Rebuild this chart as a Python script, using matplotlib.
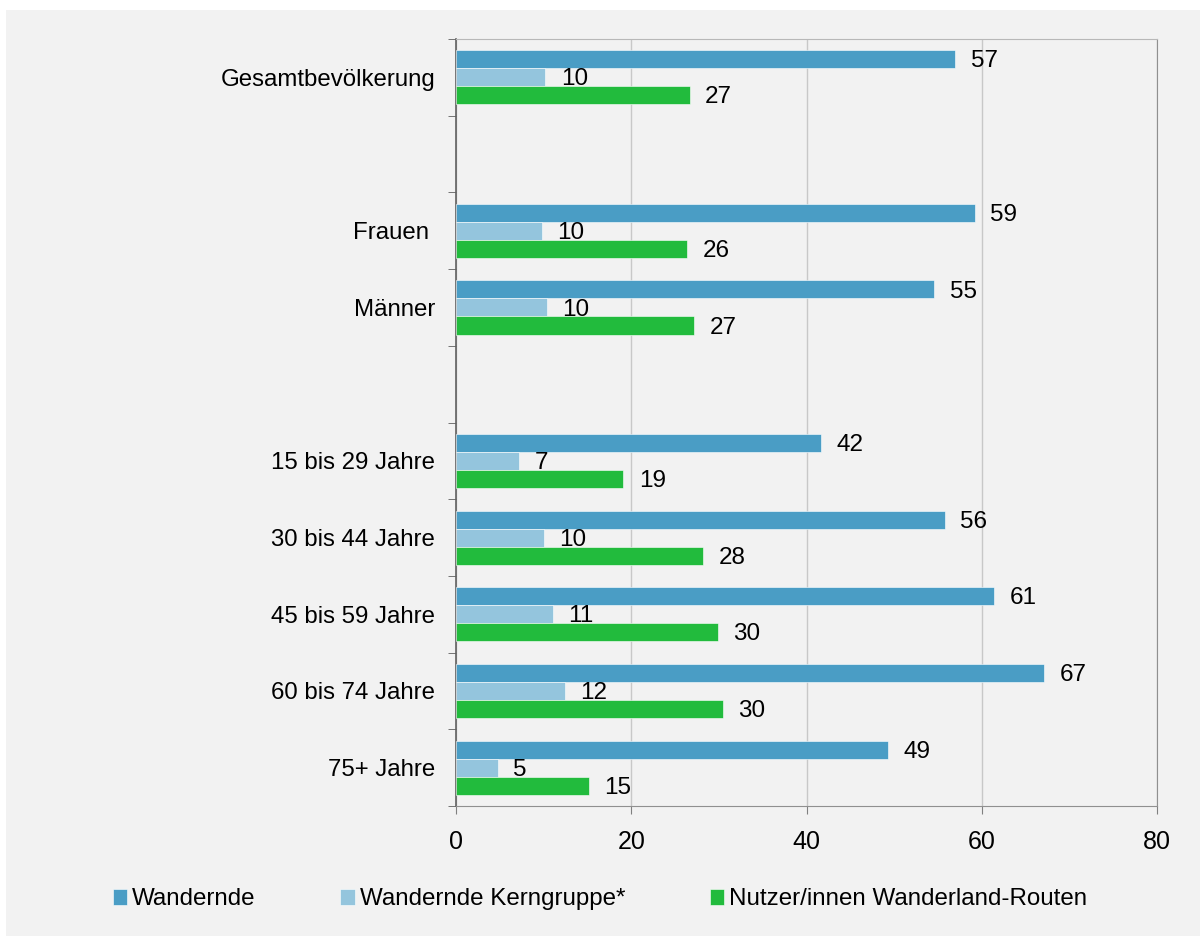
import matplotlib
matplotlib.use("Agg")
import matplotlib.pyplot as plt
import matplotlib.patches as patches
import numpy as np

plt.rcParams['font.family'] = ['Liberation Sans', 'DejaVu Sans']

# Data (values in %)
categories = ['Gesamtbevölkerung', '', 'Frauen ', 'Männer', '',
              '15 bis 29 Jahre', '30 bis 44 Jahre', '45 bis 59 Jahre',
              '60 bis 74 Jahre', '75+ Jahre']
wandernde = [57.0, None, 59.2, 54.6, None, 41.7, 55.8, 61.4, 67.1, 49.3]
kerngruppe = [10.2, None, 9.8, 10.4, None, 7.2, 10.0, 11.1, 12.4, 4.8]
nutzer = [26.7, None, 26.4, 27.2, None, 19.1, 28.2, 29.9, 30.5, 15.2]
series_labels = ['Wandernde', 'Wandernde Kerngruppe*', 'Nutzer/innen Wanderland-Routen']
colors = ['#4a9dc5', '#94c5dd', '#22bb3d']
xticks = [0, 20, 40, 60, 80]

bg = '#f2f2f2'
fig = plt.figure(figsize=(12, 9.36), dpi=100, facecolor='white')
fig.patches.append(patches.Rectangle((6 / 1200, 0), 1 - 6 / 1200, 1 - 10 / 936,
                                     transform=fig.transFigure, facecolor=bg,
                                     edgecolor='none', zorder=-10))
ax = fig.add_axes([0.38, 0.1389, 0.5842, 0.8194])
ax.set_facecolor(bg)

bar_h = 0.235
y = np.arange(len(categories))
for i, (vals, col, lab) in enumerate(zip([wandernde, kerngruppe, nutzer], colors, series_labels)):
    ys = [yy + (i - 1) * bar_h for yy, v in zip(y, vals) if v is not None]
    vs = [v for v in vals if v is not None]
    ax.barh(ys, vs, height=bar_h, color=col, edgecolor='white',
            linewidth=0.4, label=lab, zorder=3)
    for yy, v in zip(ys, vs):
        ax.annotate(f'{v:.0f}', (v, yy), xytext=(11, -1.5), textcoords='offset points',
                    ha='left', va='center', fontsize=17.5, color='black', zorder=4)

ax.set_xlim(0, 80)
ax.set_ylim(len(categories) - 0.5, -0.5)
ax.set_xticks(xticks)
ax.set_xticklabels([str(t) for t in xticks], fontsize=18)
ax.tick_params(axis='x', length=6, color='#808080', pad=11)
ax.set_yticks(y)
ax.set_yticklabels(categories, fontsize=17.3)
ax.tick_params(axis='y', which='major', length=0, pad=15)
ax.set_yticks(np.arange(-0.5, len(categories)), minor=True)
ax.tick_params(axis='y', which='minor', length=6, color='#606060')

ax.grid(axis='x', color='#c8c8c8', linewidth=1, zorder=0)
ax.spines['left'].set_color('#606060')
ax.spines['left'].set_linewidth(1.2)
ax.spines['bottom'].set_color('#909090')
ax.spines['top'].set_color('#b8b8b8')
ax.spines['right'].set_color('#909090')

handles, labels = ax.get_legend_handles_labels()
fig.legend(handles, labels, loc='center', bbox_to_anchor=(0.5, 0.039), ncol=3,
           frameon=False, fontsize=17.4, handlelength=0.6, handleheight=0.6,
           handletextpad=0.2, columnspacing=3.5)

fig.savefig('out.png', dpi=100, facecolor=fig.get_facecolor())
